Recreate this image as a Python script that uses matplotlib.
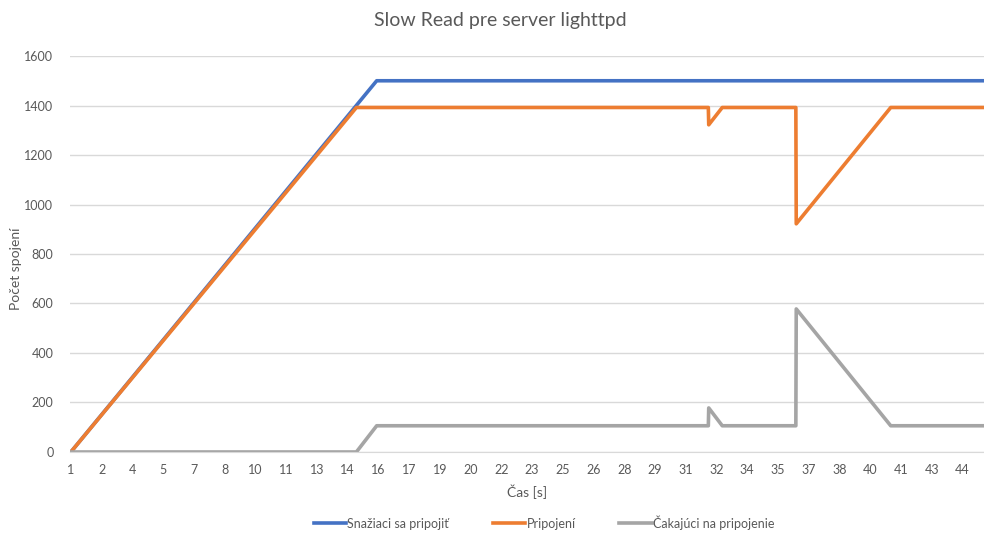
import numpy as np
import matplotlib
matplotlib.use('Agg')
import matplotlib.pyplot as plt

plt.rcParams['font.family'] = ['Lato', 'DejaVu Sans']

# breakpoints of the three series (time in s, connection count)
t_snaziaci = [1, 15.92, 45.6]
snaziaci = [0, 1500, 1500]

t_pripojeni = [1, 14.93, 32.1, 32.12, 32.78, 36.37, 36.39, 41.0, 45.6]
pripojeni = [0, 1392, 1392, 1322, 1392, 1392, 922, 1392, 1392]

t_cakajuci = [1, 14.93, 15.92, 32.1, 32.12, 32.78, 36.37, 36.39, 41.0, 45.6]
cakajuci = [0, 0, 106, 106, 178, 106, 106, 578, 106, 106]

tick_pos = [1 + 1.5 * i for i in range(30)]
tick_labels = ['1', '2', '4', '5', '7', '8', '10', '11', '13', '14', '16', '17', '19', '20', '22',
               '23', '25', '26', '28', '29', '31', '32', '34', '35', '37', '38', '40', '41', '43', '44']

text_col = '#595959'

fig = plt.figure(figsize=(9.84, 5.37), dpi=100)
ax = fig.add_axes([0.0712, 0.1583, 0.9288, 0.7374])

ax.plot(t_snaziaci, snaziaci, color='#4472C4', linewidth=2.6, label='Snažiaci sa pripojiť')
ax.plot(t_pripojeni, pripojeni, color='#ED7D31', linewidth=2.6, label='Pripojení')
ax.plot(t_cakajuci, cakajuci, color='#A5A5A5', linewidth=2.6, label='Čakajúci na pripojenie')

ax.set_xlim(0.96, 45.55)
ax.set_ylim(0, 1600)
ax.set_yticks(np.arange(0, 1601, 200))
ax.set_xticks(tick_pos)
ax.set_xticklabels(tick_labels)
ax.tick_params(axis='both', length=0, labelsize=9, colors=text_col)
ax.tick_params(axis='x', pad=9)
ax.tick_params(axis='y', pad=12)
ax.grid(axis='y', color='#D9D9D9', linewidth=1)
ax.set_axisbelow(True)
for side in ['top', 'right', 'left']:
    ax.spines[side].set_visible(False)
ax.spines['bottom'].set_color('#D9D9D9')

ax.set_xlabel('Čas [s]', fontsize=10, color=text_col, labelpad=6)
fig.text(0.016, 0.5, 'Počet spojení', rotation=90, ha='center', va='center',
         fontsize=10, color=text_col)
fig.text(0.508, 0.962, 'Slow Read pre server lighttpd', ha='center', va='center',
         fontsize=14, color=text_col)

leg = fig.legend(loc='center', bbox_to_anchor=(0.553, 0.027), ncol=3, frameon=False,
                 fontsize=9, handlelength=2.6, handletextpad=0.1, columnspacing=3.5)
for txt in leg.get_texts():
    txt.set_color(text_col)

fig.savefig('out.png', dpi=100)
